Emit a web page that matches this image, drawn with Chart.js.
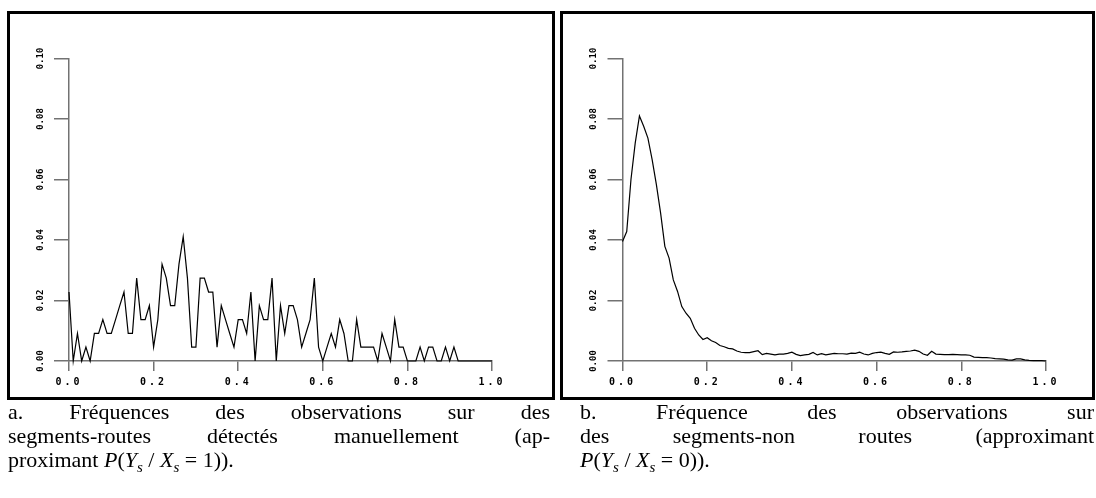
<!DOCTYPE html>
<html>
<head>
<meta charset="utf-8">
<script src="https://cdn.jsdelivr.net/npm/chart.js@4.4.0/dist/chart.umd.min.js"></script>
<style>
  body { margin: 0; background: #fff; width: 1096px; height: 498px; position: relative; overflow: hidden;
         font-family: "Liberation Serif", "Times New Roman", serif; }
  .frame { position: absolute; border: 3px solid #000; box-sizing: border-box; pointer-events: none; }
  canvas { position: absolute; top: 0; }
  .cap { position: absolute; top: 400px; font-size: 22px; line-height: 24px; color: #000; }
  .cap .l { text-align: justify; text-align-last: justify; }
  .cap .e { text-align: left; }
  .cap sub { font-size: 15px; line-height: 0; }
</style>
</head>
<body>
<canvas id="chartA" width="556" height="400" style="left:0"></canvas>
<canvas id="chartB" width="540" height="400" style="left:556px"></canvas>
<div class="frame" style="left:7px;top:11px;width:548px;height:389px"></div>
<div class="frame" style="left:560px;top:11px;width:535px;height:389px"></div>

<div class="cap" style="left:8px;width:542px">
  <div class="l">a. Fréquences des observations sur des</div>
  <div class="l">segments-routes détectés manuellement (ap-</div>
  <div class="e">proximant <i>P</i>(<i>Y<sub>s</sub></i> / <i>X<sub>s</sub></i> = 1)).</div>
</div>
<div class="cap" style="left:580px;width:514px">
  <div class="l">b. Fréquence des observations sur</div>
  <div class="l">des segments-non routes (approximant</div>
  <div class="e"><i>P</i>(<i>Y<sub>s</sub></i> / <i>X<sub>s</sub></i> = 0)).</div>
</div>

<script>
const BINS = [0.00,0.01,0.02,0.03,0.04,0.05,0.06,0.07,0.08,0.09,
              0.10,0.11,0.12,0.13,0.14,0.15,0.16,0.17,0.18,0.19,
              0.20,0.21,0.22,0.23,0.24,0.25,0.26,0.27,0.28,0.29,
              0.30,0.31,0.32,0.33,0.34,0.35,0.36,0.37,0.38,0.39,
              0.40,0.41,0.42,0.43,0.44,0.45,0.46,0.47,0.48,0.49,
              0.50,0.51,0.52,0.53,0.54,0.55,0.56,0.57,0.58,0.59,
              0.60,0.61,0.62,0.63,0.64,0.65,0.66,0.67,0.68,0.69,
              0.70,0.71,0.72,0.73,0.74,0.75,0.76,0.77,0.78,0.79,
              0.80,0.81,0.82,0.83,0.84,0.85,0.86,0.87,0.88,0.89,
              0.90,0.91,0.92,0.93,0.94,0.95,0.96,0.97,0.98,0.99,1.00];

// a. segments-routes
const ROUTE_FREQ = [0.0228,0,0.0091,0,0.0046,0,0.0091,0.0091,0.0137,0.0091,
                    0.0091,0.0137,0.0183,0.0228,0.0091,0.0091,0.0274,0.0137,0.0137,0.0183,
                    0.0046,0.0137,0.0320,0.0274,0.0183,0.0183,0.0320,0.0411,0.0274,0.0046,
                    0.0046,0.0274,0.0274,0.0228,0.0228,0.0046,0.0183,0.0137,0.0091,0.0046,
                    0.0137,0.0137,0.0091,0.0228,0,0.0183,0.0137,0.0137,0.0274,0,
                    0.0183,0.0091,0.0183,0.0183,0.0137,0.0046,0.0091,0.0137,0.0274,0.0046,
                    0,0.0046,0.0091,0.0046,0.0137,0.0091,0,0,0.0137,0.0046,
                    0.0046,0.0046,0.0046,0,0.0091,0.0046,0,0.0137,0.0046,0.0046,
                    0,0,0,0.0046,0,0.0046,0.0046,0,0,0.0046,
                    0,0.0046,0,0,0,0,0,0,0,0,0];

// b. segments-non routes
const NONROUTE_FREQ = [0.0395,0.0428,0.0600,0.0720,0.0810,0.0776,0.0737,0.0666,0.0583,0.0489,
                       0.0379,0.0340,0.0268,0.0230,0.0180,0.0158,0.0141,0.0108,0.0086,0.0071,
                       0.0077,0.0067,0.0061,0.0051,0.0047,0.0042,0.0040,0.0033,0.0029,0.0028,
                       0.0028,0.0031,0.0034,0.0021,0.0025,0.0023,0.0020,0.0023,0.0023,0.0025,
                       0.0029,0.0022,0.0018,0.0020,0.0022,0.0028,0.0020,0.0024,0.0020,0.0023,
                       0.0025,0.0024,0.0024,0.0023,0.0026,0.0025,0.0029,0.0023,0.0020,0.0025,
                       0.0028,0.0029,0.0025,0.0022,0.0030,0.0029,0.0030,0.0032,0.0033,0.0036,
                       0.0032,0.0023,0.0019,0.0032,0.0023,0.0022,0.0021,0.0021,0.0022,0.0021,
                       0.0020,0.0020,0.0019,0.0013,0.0012,0.0011,0.0011,0.0010,0.0008,0.0007,
                       0.0006,0.0004,0.0003,0.0007,0.0007,0.0004,0.0002,0.0001,0.0001,0.0001,0];

const X_TICKS = ['0.0','0.2','0.4','0.6','0.8','1.0'];
const Y_TICKS = ['0.00','0.02','0.04','0.06','0.08','0.10'];

const AXIS_GRAY = '#727272';
const TICK_FONT = '"DejaVu Sans Mono", "Liberation Mono", monospace';

// x tick labels are spaced out, y ones are not
const spacing = {
  id: 'spacing',
  beforeDraw(chart) { chart.ctx.letterSpacing = '0px'; },
  afterDatasetsDraw(chart) { chart.ctx.letterSpacing = '3px'; },
  afterDraw(chart) { chart.ctx.letterSpacing = '0px'; }
};

function makeChart(id, values, axisWidth, padRight) {
  return new Chart(document.getElementById(id).getContext('2d'), {
    type: 'line',
    data: {
      datasets: [{
        data: BINS.map((x, i) => ({ x: x, y: values[i] })),
        borderColor: '#000',
        borderWidth: 1.2,
        pointRadius: 0,
        tension: 0,
        clip: false
      }]
    },
    options: {
      responsive: false,
      animation: false,
      layout: { padding: { top: 58.5, right: padRight, bottom: 0, left: 0 } },
      plugins: { legend: { display: false }, tooltip: { enabled: false } },
      scales: {
        x: {
          type: 'linear', min: 0, max: 1,
          afterFit(s) { s.height = 39; },
          border: { display: true, color: AXIS_GRAY, width: 1.5 },
          grid: { drawOnChartArea: false, drawTicks: true, tickLength: 10, color: AXIS_GRAY, lineWidth: 1.5 },
          ticks: {
            stepSize: 0.2, z: 1, padding: 5, color: '#000',
            font: { family: TICK_FONT, size: 10, weight: 'bold' },
            callback: (v, i) => X_TICKS[i]
          }
        },
        y: {
          type: 'linear', min: 0, max: 0.1,
          afterFit(s) { s.width = axisWidth; },
          border: { display: true, color: AXIS_GRAY, width: 1.5 },
          grid: { drawOnChartArea: false, drawTicks: true, tickLength: 15, color: AXIS_GRAY, lineWidth: 1.5 },
          ticks: {
            stepSize: 0.02, z: 0, padding: 3, color: '#000',
            minRotation: 90, maxRotation: 90, crossAlign: 'center',
            font: { family: TICK_FONT, size: 9, weight: 'bold' },
            callback: (v, i) => Y_TICKS[i]
          }
        }
      }
    },
    plugins: [spacing]
  });
}

makeChart('chartA', ROUTE_FREQ, 69, 64);
makeChart('chartB', NONROUTE_FREQ, 66.5, 50);
</script>
</body>
</html>
